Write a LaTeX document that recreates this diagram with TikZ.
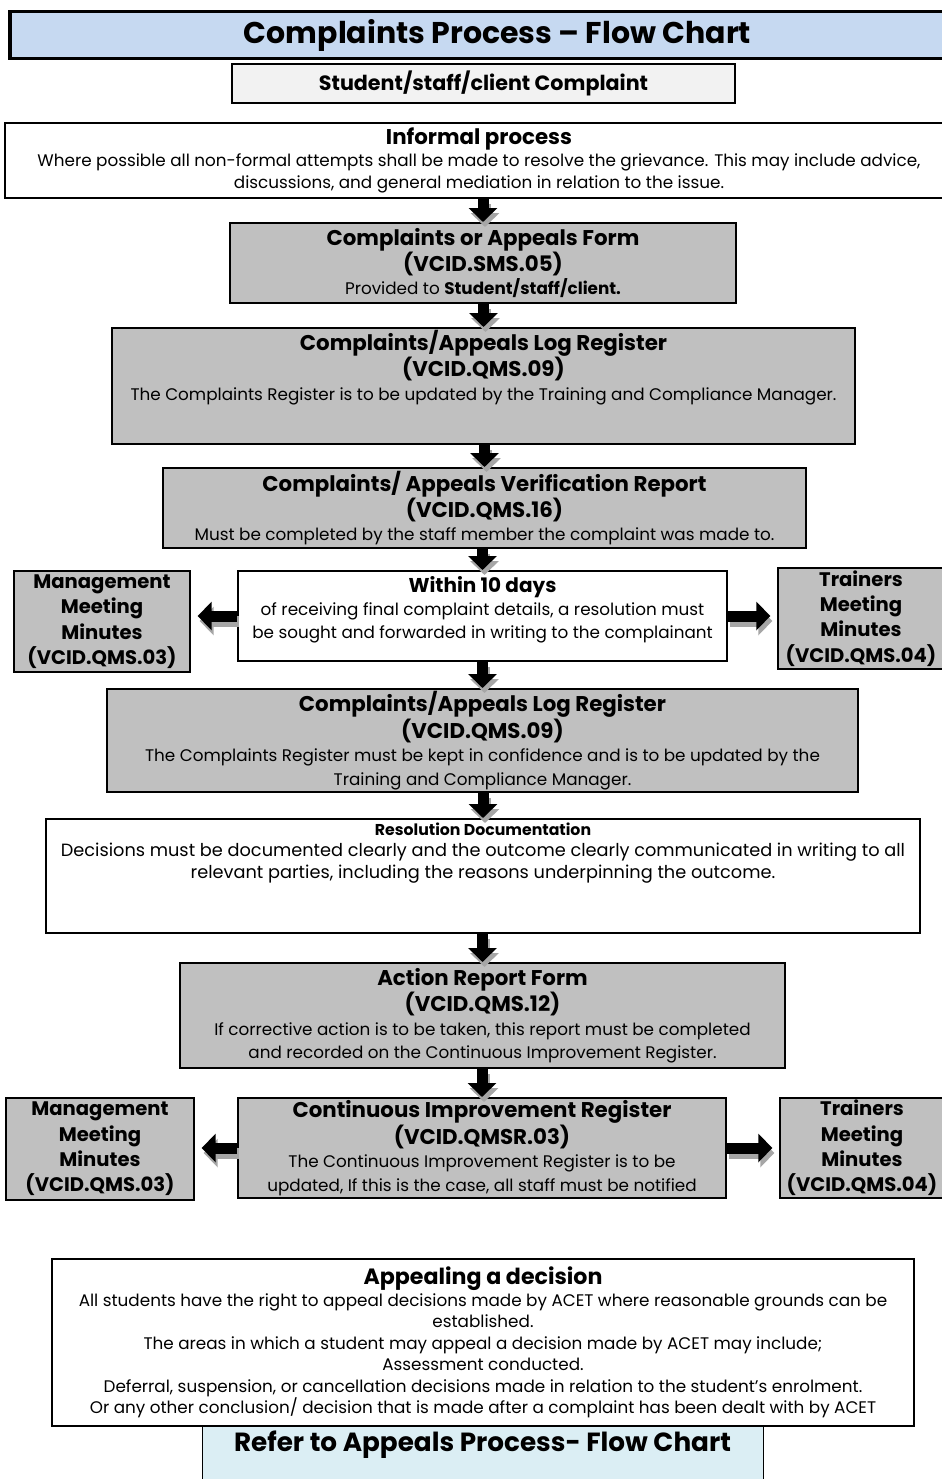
\documentclass[tikz,border=0pt]{standalone}
\usepackage{fontspec}
\setmainfont{Poppins}
\usetikzlibrary{arrows.meta}

\definecolor{titleblue}{HTML}{C6D9F1}
\definecolor{palegrey}{HTML}{F2F2F2}
\definecolor{boxgrey}{HTML}{C0C0C0}
\definecolor{referblue}{HTML}{DBEEF4}
\definecolor{shadowgrey}{HTML}{A6A6A6}

\newcommand\hd{\fontsize{16}{18.5}\selectfont\bfseries}
\newcommand\bd{\fontsize{12.6}{17.5}\selectfont}
\newcommand\bigtitle{\fontsize{22.5}{25}\selectfont\bfseries}

\begin{document}
\begin{tikzpicture}[x=0.75pt,y=-0.75pt]
\tikzset{wh/.style 2 args={minimum width=#1*0.75pt,minimum height=#2*0.75pt}}
\tikzstyle{box}=[draw, line width=1.5pt, inner sep=0pt, anchor=north, align=center, font=\bd]
\tikzstyle{greybox}=[box, fill=boxgrey]
\tikzstyle{plainbox}=[box, fill=white]
\tikzstyle{sidebox}=[greybox, font=\fontsize{14.7}{19}\selectfont\bfseries]
\tikzstyle{txt}=[inner sep=0pt, anchor=north, align=center, font=\bd]
\tikzstyle{blockarr}=[line width=8.25pt, -{Triangle[width=21pt,length=10.5pt]}]
\tikzstyle{arrshadow}=[blockarr, shadowgrey, transform canvas={xshift=1.5pt,yshift=-3.75pt}]

\useasboundingbox (0,0) rectangle (942,1479);

% header
\node[box, line width=2.6pt, fill=titleblue, wh={975}{47}, font=\bigtitle] (title) at (497.5,10) {Complaints Process -- Flow Chart};
\node[box, fill=palegrey, wh={503}{39}, font=\fontsize{15.5}{18}\selectfont\bfseries] (complaint) at (483.5,63) {Student/staff/client Complaint};

% main column
\node[plainbox, wh={948}{75}, font=\fontsize{12.6}{16.5}\selectfont] (informal) at (479,122) {{\hd Informal process}\\Where possible all non-formal attempts shall be made to resolve the grievance. This may include advice,\\discussions, and general mediation in relation to the issue.};
\node[greybox, wh={506}{80}] (form) at (483,222) {{\hd Complaints or Appeals Form}\\{\hd (VCID.SMS.05)}\\Provided to \textbf{Student/staff/client.}};
\node[greybox, wh={743}{116}] (logA) at (483.5,327) {};
\node[txt] (logA-text) at ([yshift=-2pt]logA.north) {{\hd Complaints/Appeals Log Register}\\{\hd (VCID.QMS.09)}\\The Complaints Register is to be updated by the Training and Compliance Manager.};
\node[greybox, wh={643}{80}] (verif) at (484.5,467) {{\hd Complaints/ Appeals Verification Report}\\{\hd (VCID.QMS.16)}\\Must be completed by the staff member the complaint was made to.};
\node[plainbox, wh={489}{90}] (within10) at (482.5,570) {};
\node[txt] (within10-text) at ([yshift=-4.5pt]within10.north) {{\fontsize{15}{17.5}\selectfont\bfseries Within 10 days}\\of receiving final complaint details, a resolution must\\be sought and forwarded in writing to the complainant};
\node[greybox, wh={751}{103}] (logB) at (482.5,688) {{\hd Complaints/Appeals Log Register}\\{\hd (VCID.QMS.09)}\\The Complaints Register must be kept in confidence and is to be updated by the\\Training and Compliance Manager.};
\node[plainbox, wh={874}{114}] (resol) at (483,818) {};
\node[txt, font=\fontsize{13.3}{16}\selectfont] (resol-text) at ([yshift=-3.5pt]resol.north) {{\fontsize{11.8}{15}\selectfont\bfseries Resolution Documentation}\\Decisions must be documented clearly and the outcome clearly communicated in writing to all\\relevant parties, including the reasons underpinning the outcome.};
\node[greybox, wh={605}{105}] (action) at (482.5,962) {{\hd Action Report Form}\\{\hd (VCID.QMS.12)}\\If corrective action is to be taken, this report must be completed\\and recorded on the Continuous Improvement Register.};
\node[greybox, wh={488}{100}] (cir) at (482,1097) {{\hd Continuous Improvement Register}\\{\hd (VCID.QMSR.03)}\\The Continuous Improvement Register is to be\\updated, If this is the case, all staff must be notified};

% meeting minutes
\node[sidebox, wh={176}{101}] (mgmtA) at (102,570) {Management\\Meeting\\Minutes\\(VCID.QMS.03)};
\node[sidebox, wh={166}{101}] (trainA) at (861,567) {Trainers\\Meeting\\Minutes\\(VCID.QMS.04)};
\node[sidebox, wh={188}{102}] (mgmtB) at (100,1097) {Management\\Meeting\\Minutes\\(VCID.QMS.03)};
\node[sidebox, wh={164}{100}] (trainB) at (862,1097) {Trainers\\Meeting\\Minutes\\(VCID.QMS.04)};

% appeals
\node[box, line width=0.75pt, fill=referblue, wh={561}{80}] (refer) at (482.5,1425) {};
\node[txt, font=\fontsize{19.7}{22}\selectfont\bfseries] (refer-text) at ([yshift=-4.5pt]refer.north) {Refer to Appeals Process- Flow Chart};
\node[plainbox, wh={862}{167}, font=\fontsize{12.6}{16.1}\selectfont] (appeal) at (483,1258) {{\fontsize{16.6}{18.5}\selectfont\bfseries Appealing a decision}\\All students have the right to appeal decisions made by ACET where reasonable grounds can be\\established.\\The areas in which a student may appeal a decision made by ACET may include;\\Assessment conducted.\\Deferral, suspension, or cancellation decisions made in relation to the student's enrolment.\\Or any other conclusion/ decision that is made after a complaint has been dealt with by ACET};

% arrows
\foreach \a/\b in {informal/form, form/logA, logA/verif, verif/within10, within10/logB, logB/resol, resol/action, action/cir} {
  \draw[arrshadow] (\a.south -| \b.north) -- (\b.north);
  \draw[blockarr] (\a.south -| \b.north) -- (\b.north);
}
\foreach \m/\s/\t/\e in {within10/west/mgmtA/east, within10/east/trainA/west, cir/west/mgmtB/east, cir/east/trainB/west} {
  \draw[arrshadow, shorten >=5pt] (\m.\s) -- (\m.\s -| \t.\e);
  \draw[blockarr, shorten >=5pt] (\m.\s) -- (\m.\s -| \t.\e);
}
\end{tikzpicture}
\end{document}
